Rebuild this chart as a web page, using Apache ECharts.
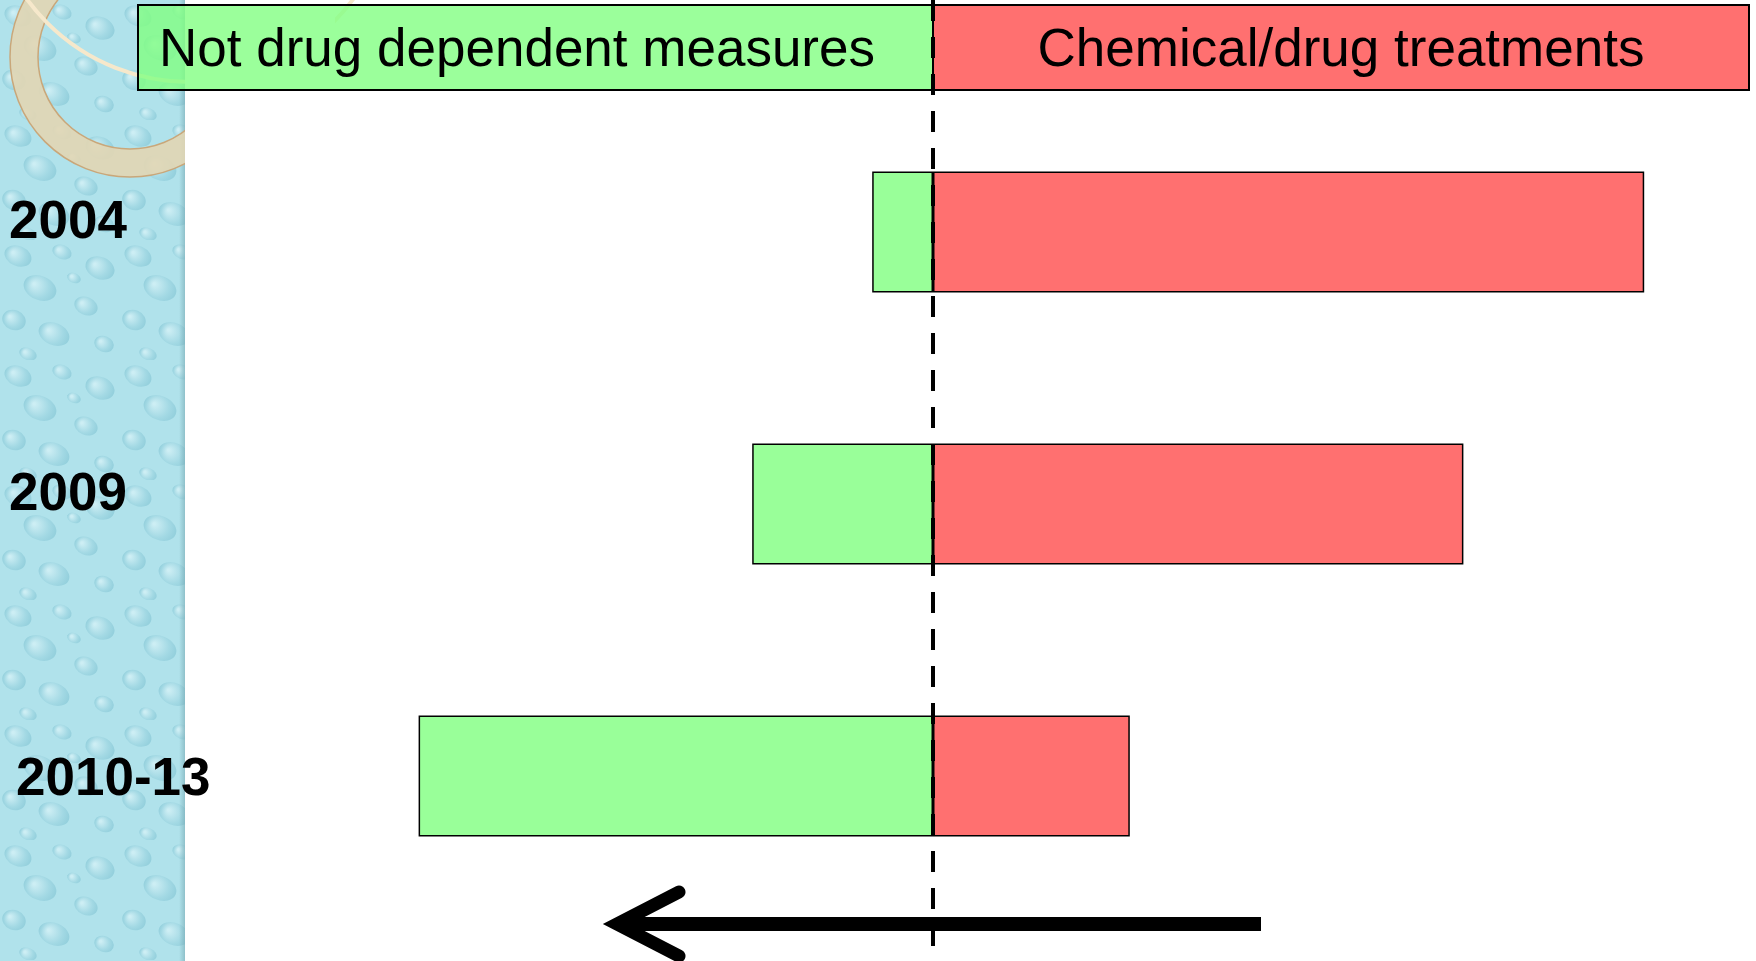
<!DOCTYPE html>
<html>
<head>
<meta charset="utf-8">
<script src="https://cdn.jsdelivr.net/npm/echarts@6/dist/echarts.min.js"></script>
<style>
  html, body { margin: 0; padding: 0; background: #fff; }
  #main { width: 1756px; height: 961px; }
</style>
</head>
<body>
<div id="main"></div>
<script>
// categories, top to bottom
const categories = ['2004', '2009', '2010-13'];
// share of measures (left = not drug dependent, right = chemical/drug)
const notDrug = [-7.6, -22.6, -64.3];
const chemDrug = [88.9, 66.3, 24.6];
const headers = ['Not drug dependent measures', 'Chemical/drug treatments'];
// arrow runs from right to left, in axis units
const arrowFrom = 41;
const arrowTo = -41;

const chart = echarts.init(document.getElementById('main'));

// water drop texture for the side panel
function dropPattern() {
  const c = document.createElement('canvas');
  c.width = 120; c.height = 120;
  const g = c.getContext('2d');
  g.fillStyle = '#b0e2eb';
  g.fillRect(0, 0, 120, 120);
  const drops = [[18, 16, 14, 10], [62, 12, 10, 7], [100, 28, 15, 11], [40, 48, 17, 12], [86, 66, 12, 9],
    [14, 80, 12, 10], [54, 94, 16, 11], [104, 104, 10, 8], [28, 114, 9, 6], [74, 38, 7, 5]];
  drops.forEach(function (d) {
    const grd = g.createRadialGradient(d[0] - d[2] * 0.35, d[1] - d[3] * 0.35, 1, d[0], d[1], d[2]);
    grd.addColorStop(0, '#cdeef4');
    grd.addColorStop(0.65, '#a3d9e4');
    grd.addColorStop(1, '#93cfdc');
    g.fillStyle = grd;
    g.beginPath();
    g.ellipse(d[0], d[1], d[2], d[3], 0.4, 0, Math.PI * 2);
    g.fill();
  });
  return c;
}

const font = 'Liberation Sans, Arial, sans-serif';

chart.setOption({
  animation: false,
  backgroundColor: '#fff',
  grid: { left: 133, right: 23, top: 96, bottom: 49 },
  xAxis: { type: 'value', min: -100, max: 100, show: false },
  yAxis: {
    type: 'category',
    data: categories,
    inverse: true,
    axisLine: { show: false },
    axisTick: { show: false },
    splitLine: { show: false },
    axisLabel: {
      align: 'left',
      margin: 124,
      fontSize: 53,
      fontWeight: 'bold',
      fontFamily: font,
      color: '#000',
      formatter: function (v, i) {
        return i < 2 ? '{up|' + v + '}' : '{low|' + v + '}';
      },
      rich: {
        up: { fontSize: 53, fontWeight: 'bold', fontFamily: font, color: '#000', padding: [8, 0, 26, 0] },
        low: { fontSize: 53, fontWeight: 'bold', fontFamily: font, color: '#000', padding: [8, 0, 0, 7] }
      }
    }
  },
  series: [
    {
      type: 'bar',
      name: headers[0],
      data: notDrug,
      barWidth: 121,
      barGap: '-100%',
      silent: true,
      itemStyle: { color: '#99ff99', borderColor: '#000', borderWidth: 1.5 }
    },
    {
      type: 'bar',
      name: headers[1],
      data: chemDrug,
      barWidth: 121,
      barGap: '-100%',
      silent: true,
      itemStyle: { color: '#ff7070', borderColor: '#000', borderWidth: 1.5 }
    }
  ]
});

// overlay pieces placed from the axis
const x0 = chart.convertToPixel({ xAxisIndex: 0 }, 0);
const ax1 = chart.convertToPixel({ xAxisIndex: 0 }, arrowFrom);
const ax2 = chart.convertToPixel({ xAxisIndex: 0 }, arrowTo) + 12;
const arrowY = 924;

chart.setOption({
  graphic: [
    {
      type: 'rect', z: -10, silent: true,
      shape: { x: 0, y: 0, width: 185, height: 961 },
      style: { fill: { image: dropPattern(), repeat: 'repeat' } }
    },
    {
      type: 'rect', z: -10, silent: true,
      shape: { x: 179, y: 0, width: 6, height: 961 },
      style: {
        fill: new echarts.graphic.LinearGradient(0, 0, 1, 0, [
          { offset: 0, color: 'rgba(120,170,180,0)' },
          { offset: 1, color: 'rgba(120,170,180,0.6)' }
        ])
      }
    },
    {
      type: 'ring', z: -9, silent: true,
      shape: { cx: 130, cy: 57, r: 120, r0: 92 },
      style: { fill: 'rgba(226,214,180,0.9)', stroke: '#c9a77a', lineWidth: 1.5 }
    },
    {
      type: 'circle', z: -9, silent: true,
      shape: { cx: 190, cy: -120, r: 202 },
      style: { fill: 'none', stroke: '#f6e8cb', lineWidth: 4 }
    },
    {
      type: 'rect', z: -8, silent: true,
      shape: { x: 185, y: 0, width: 150, height: 170 },
      style: { fill: '#fff' }
    },
    {
      type: 'rect', z: 10, silent: true,
      shape: { x: 138, y: 5, width: x0 - 138, height: 85 },
      style: { fill: 'rgba(130,255,130,0.8)', stroke: '#000', lineWidth: 2 }
    },
    {
      type: 'rect', z: 10, silent: true,
      shape: { x: x0, y: 5, width: 1749 - x0, height: 85 },
      style: { fill: '#ff7070', stroke: '#000', lineWidth: 2 }
    },
    {
      type: 'text', z: 11, silent: true,
      x: 517, y: 51,
      style: { text: headers[0], font: '53px ' + font, fill: '#000', align: 'center', verticalAlign: 'middle' }
    },
    {
      type: 'text', z: 11, silent: true,
      x: (x0 + 1749) / 2, y: 51,
      style: { text: headers[1], font: '53px ' + font, fill: '#000', align: 'center', verticalAlign: 'middle' }
    },
    {
      type: 'line', z: 20, silent: true,
      shape: { x1: x0, y1: 0, x2: x0, y2: 961 },
      style: { stroke: '#000', lineWidth: 4, lineDash: [21, 16] }
    },
    {
      type: 'line', z: 20, silent: true,
      shape: { x1: ax1, y1: arrowY, x2: ax2 + 8, y2: arrowY },
      style: { stroke: '#000', lineWidth: 14 }
    },
    {
      type: 'polyline', z: 20, silent: true,
      shape: { points: [[ax2 + 62, arrowY - 32], [ax2, arrowY], [ax2 + 62, arrowY + 32]] },
      style: { stroke: '#000', lineWidth: 13, lineCap: 'round', lineJoin: 'miter', fill: 'none' }
    }
  ]
});
</script>
</body>
</html>
